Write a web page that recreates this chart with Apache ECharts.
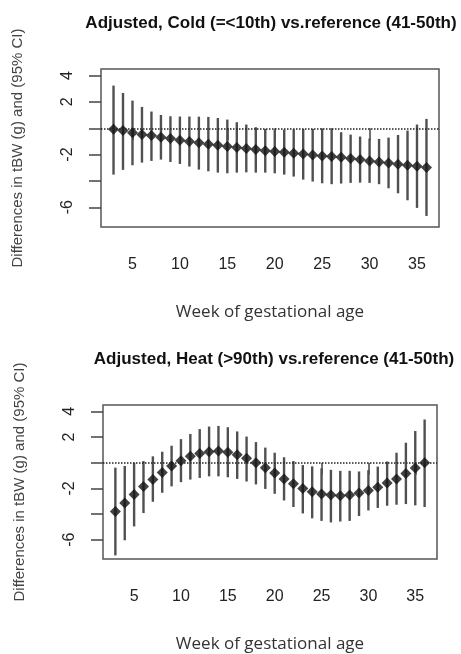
<!DOCTYPE html>
<html>
<head>
<meta charset="utf-8">
<script src="https://cdn.jsdelivr.net/npm/echarts@6/dist/echarts.min.js"></script>
<style>
  html, body { margin: 0; padding: 0; background: #fff; }
  #chart { width: 461px; height: 654px; }
</style>
</head>
<body>
<div id="chart"></div>
<script>
// weeks of gestational age
const weeks = [3, 4, 5, 6, 7, 8, 9, 10, 11, 12, 13, 14, 15, 16, 17, 18, 19, 20,
  21, 22, 23, 24, 25, 26, 27, 28, 29, 30, 31, 32, 33, 34, 35, 36]

// cold (=<10th) vs reference
const coldEst = [-0.08, -0.18, -0.35, -0.48, -0.56, -0.68, -0.78, -0.91, -1.01, -1.11, -1.22, -1.29,
  -1.39, -1.47, -1.54, -1.62, -1.70, -1.77, -1.82, -1.90, -1.95, -2.03, -2.10, -2.15, -2.20,
  -2.30, -2.38, -2.48, -2.56, -2.63, -2.73, -2.81, -2.89, -2.99]
const coldLow = [-3.52, -3.16, -2.81, -2.61, -2.48, -2.38, -2.56, -2.71, -2.91, -3.14, -3.27, -3.37,
  -3.42, -3.37, -3.35, -3.37, -3.37, -3.42, -3.52, -3.67, -3.90, -4.05, -4.18, -4.25, -4.20,
  -4.15, -4.13, -4.15, -4.25, -4.56, -4.94, -5.47, -6.05, -6.66]
const coldHigh = [3.24, 2.68, 2.10, 1.62, 1.27, 1.01, 0.91, 0.89, 0.89, 0.88, 0.86, 0.78,
  0.66, 0.46, 0.28, 0.08, -0.05, -0.10, -0.10, -0.08, -0.05, -0.05, -0.05, 0.0, -0.30,
  -0.48, -0.63, -0.78, -0.81, -0.71, -0.51, -0.18, 0.28, 0.71]

// heat (>90th) vs reference
const heatEst = [-3.80, -3.14, -2.47, -1.86, -1.31, -0.75, -0.25, 0.15, 0.50, 0.73, 0.86, 0.91,
  0.81, 0.63, 0.35, 0.0, -0.38, -0.80, -1.26, -1.64, -2.01, -2.26, -2.44, -2.52, -2.57,
  -2.52, -2.36, -2.16, -1.91, -1.58, -1.26, -0.83, -0.40, 0.0]
const heatLow = [-7.22, -6.04, -4.96, -3.92, -3.04, -2.34, -1.84, -1.51, -1.31, -1.18, -1.06, -1.06,
  -1.13, -1.26, -1.46, -1.69, -2.04, -2.42, -2.94, -3.45, -3.95, -4.33, -4.53, -4.65, -4.58,
  -4.53, -4.15, -3.72, -3.52, -3.35, -3.27, -3.22, -3.32, -3.45]
const heatHigh = [-0.38, -0.25, 0.0, 0.13, 0.50, 0.86, 1.33, 1.84, 2.24, 2.62, 2.82, 2.87,
  2.77, 2.44, 2.04, 1.61, 1.18, 0.78, 0.43, 0.13, -0.18, -0.28, -0.43, -0.55, -0.63,
  -0.63, -0.68, -0.58, -0.30, 0.10, 0.78, 1.56, 2.47, 3.37]

const xTicks = [5, 10, 15, 20, 25, 30, 35]
const yTicks = [-6, -4, -2, 0, 2, 4]
const yLabels = [-6, -2, 2, 4]

const titles = [
  'Adjusted, Cold (=<10th) vs.reference (41-50th)',
  'Adjusted, Heat (>90th) vs.reference (41-50th)'
]
const xName = 'Week of gestational age'
const yName = 'Differences in tBW (g) and (95% CI)'

var myChart = echarts.init(document.getElementById('chart'))

function errorBar (params, api) {
  let x = api.value(0)
  let lo = api.coord([x, api.value(1)])
  let hi = api.coord([x, api.value(2)])
  return {
    type: 'line',
    shape: { x1: lo[0], y1: lo[1], x2: hi[0], y2: hi[1] },
    style: { stroke: '#505050', lineWidth: 2.4 }
  }
}

function makeX (idx) {
  return {
    gridIndex: idx,
    type: 'value',
    min: 1.68,
    max: 37.32,
    axisLine: { show: false },
    splitLine: { show: false },
    axisTick: { show: true, length: 12, customValues: xTicks, lineStyle: { color: '#444', width: 1.5 } },
    axisLabel: { customValues: xTicks, color: '#222', fontSize: 16, fontFamily: 'Liberation Sans', margin: 30 },
    name: xName,
    nameLocation: 'middle',
    nameGap: 77,
    nameTextStyle: { fontFamily: 'Open Sans', fontSize: 17, color: '#333' }
  }
}

function makeY (idx) {
  return {
    gridIndex: idx,
    type: 'value',
    min: -7.5,
    max: 4.5,
    axisLine: { show: false },
    splitLine: { show: false },
    axisTick: { show: true, length: 12, customValues: yTicks, lineStyle: { color: '#444', width: 1.5 } },
    axisLabel: { customValues: yLabels, rotate: 90, color: '#222', fontSize: 16, fontFamily: 'Liberation Sans', margin: 25 },
    name: yName,
    nameLocation: 'middle',
    nameGap: 76,
    nameTextStyle: { fontFamily: 'Liberation Sans', fontSize: 15, color: '#444' }
  }
}

function makeSeries (idx, est, low, high) {
  return [
    {
      type: 'custom',
      xAxisIndex: idx,
      yAxisIndex: idx,
      renderItem: errorBar,
      encode: { x: 0, y: [1, 2] },
      data: weeks.map((w, i) => [w, low[i], high[i]]),
      silent: true
    },
    {
      type: 'scatter',
      xAxisIndex: idx,
      yAxisIndex: idx,
      symbol: 'diamond',
      symbolSize: 11,
      itemStyle: { color: '#111' },
      data: weeks.map((w, i) => [w, est[i]]),
      markLine: {
        silent: true,
        symbol: 'none',
        label: { show: false },
        lineStyle: { type: 'dotted', color: '#222', width: 1.5 },
        data: [{ yAxis: 0 }]
      },
      z: 3
    }
  ]
}

let option = {
  backgroundColor: '#fff',
  animation: false,
  title: [
    {
      text: titles[0], left: 266, top: 10, textAlign: 'center',
      textStyle: { fontFamily: 'Liberation Sans', fontWeight: 'bold', fontSize: 17, color: '#111' }
    },
    {
      text: titles[1], left: 269, top: 346, textAlign: 'center',
      textStyle: { fontFamily: 'Liberation Sans', fontWeight: 'bold', fontSize: 17, color: '#111' }
    }
  ],
  grid: [
    { left: 101, right: 22, top: 69, height: 158, show: true, borderColor: '#555', borderWidth: 1.5, backgroundColor: 'transparent' },
    { left: 103, right: 24, top: 405, height: 157, show: true, borderColor: '#555', borderWidth: 1.5, backgroundColor: 'transparent' }
  ],
  xAxis: [makeX(0), makeX(1)],
  yAxis: [makeY(0), makeY(1)],
  series: [].concat(
    makeSeries(0, coldEst, coldLow, coldHigh),
    makeSeries(1, heatEst, heatLow, heatHigh)
  )
}

myChart.setOption(option)
</script>
</body>
</html>
